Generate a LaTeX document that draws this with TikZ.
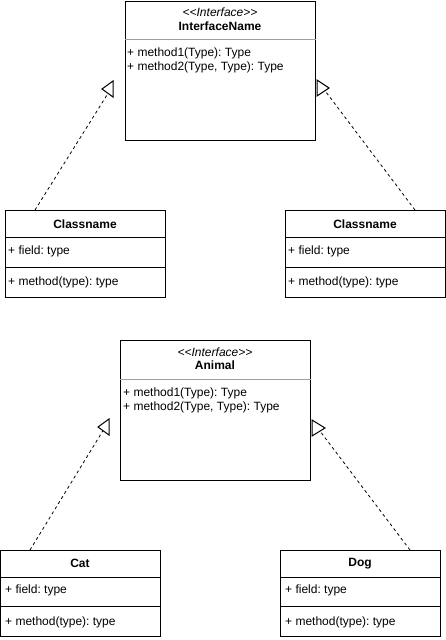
\documentclass[tikz,border=0pt]{standalone}
\usepackage{fontspec}
\setmainfont{Liberation Sans}[Ligatures=TeXOff]
\usetikzlibrary{positioning}
\newcommand{\umlfont}{\fontsize{12}{14}\selectfont\frenchspacing}
\definecolor{sepgray}{HTML}{A0A0A0}
\tikzset{
box/.style={draw, rectangle, inner sep=0pt, line width=1pt, fill=white},
stereo/.style={font=\umlfont\itshape, inner sep=0pt},
title/.style={font=\umlfont\bfseries, inner sep=0pt},
member/.style={font=\umlfont, anchor=west, inner sep=0pt},
divider/.style={draw, line width=1pt},
softdivider/.style={draw=sepgray, line width=1pt},
realize/.style={draw, line width=0.8pt, dash pattern=on 3pt off 3pt},
hollow/.style={draw, line width=1pt, fill=white, line join=miter},
}

\begin{document}
\begin{tikzpicture}[x=1pt, y=-1pt]
    \useasboundingbox (0,0) rectangle (446,640);

    %upper interface
    \node[box, minimum width=190pt, minimum height=139pt] (iface1) at (220,70.5) { };
    \node[stereo] (iface1st) at (220,12) {<<Interface>>};
    \node[title]  (iface1nm) at (220,26) {InterfaceName};
    \node[member] (iface1m1) at (127,53) {+ method1(Type): Type};
    \node[member] (iface1m2) at (127,67) {+ method2(Type, Type): Type};
    \draw[softdivider] (iface1.west |- 0,39.5)--(iface1.east |- 0,39.5);

    %upper classes
    \node[box, minimum width=160pt, minimum height=87pt] (cls1) at (85,253.5) { };
    \node[title]  (cls1nm) at (85,224) {Classname};
    \node[member] (cls1f)  at (8,251) {+ field: type};
    \node[member] (cls1m)  at (8,282) {+ method(type): type};
    \draw[divider] (cls1.west |- 0,237)--(cls1.east |- 0,237);
    \draw[divider] (cls1.west |- 0,267)--(cls1.east |- 0,267);

    \node[box, minimum width=160pt, minimum height=87pt] (cls2) at (365,253.5) { };
    \node[title]  (cls2nm) at (365,224) {Classname};
    \node[member] (cls2f)  at (288,251) {+ field: type};
    \node[member] (cls2m)  at (288,282) {+ method(type): type};
    \draw[divider] (cls2.west |- 0,237)--(cls2.east |- 0,237);
    \draw[divider] (cls2.west |- 0,267)--(cls2.east |- 0,267);

    %lower interface
    \node[box, minimum width=190pt, minimum height=140pt] (iface2) at (215,410) { };
    \node[stereo] (iface2st) at (215,352) {<<Interface>>};
    \node[title]  (iface2nm) at (215,365) {Animal};
    \node[member] (iface2m1) at (123,393) {+ method1(Type): Type};
    \node[member] (iface2m2) at (123,407) {+ method2(Type, Type): Type};
    \draw[softdivider] (iface2.west |- 0,379.5)--(iface2.east |- 0,379.5);

    %lower classes
    \node[box, minimum width=159.5pt, minimum height=86pt] (cat) at (80.25,593) { };
    \node[title]  (catnm) at (80,563.5) {Cat};
    \node[member] (catf)  at (5,590) {+ field: type};
    \node[member] (catm)  at (5,622) {+ method(type): type};
    \draw[divider] (cat.west |- 0,577)--(cat.east |- 0,577);
    \draw[divider] (cat.west |- 0,606)--(cat.east |- 0,606);

    \node[box, minimum width=160pt, minimum height=86pt] (dog) at (360,593) { };
    \node[title]  (dognm) at (360,563.5) {Dog};
    \node[member] (dogf)  at (285,590) {+ field: type};
    \node[member] (dogm)  at (285,622) {+ method(type): type};
    \draw[divider] (dog.west |- 0,577)--(dog.east |- 0,577);
    \draw[divider] (dog.west |- 0,606)--(dog.east |- 0,606);

    %ends of the dashed lines
    \coordinate (cls1top) at (35,210);
    \coordinate (cls2top) at (415,210);
    \coordinate (cattop)  at (30,550);
    \coordinate (dogtop)  at (410,550);
    \coordinate (end1) at (108,93.4);
    \coordinate (end2) at (325,90.7);
    \coordinate (end3) at (103,430.6);
    \coordinate (end4) at (320,431.1);

    % dashed realization lines
    \draw[realize] (cls1top)--(end1);
    \draw[realize] (cls2top)--(end2);
    \draw[realize] (cattop)--(end3);
    \draw[realize] (dogtop)--(end4);

    % open triangles
    \draw[hollow] (102,89)--(113,81)--(113,97)--cycle;
    \draw[hollow] (329,88)--(317,80)--(317,96)--cycle;
    \draw[hollow] (98,427)--(109,419)--(109,435)--cycle;
    \draw[hollow] (325,428)--(312,420)--(312,436)--cycle;
\end{tikzpicture}
\end{document}
